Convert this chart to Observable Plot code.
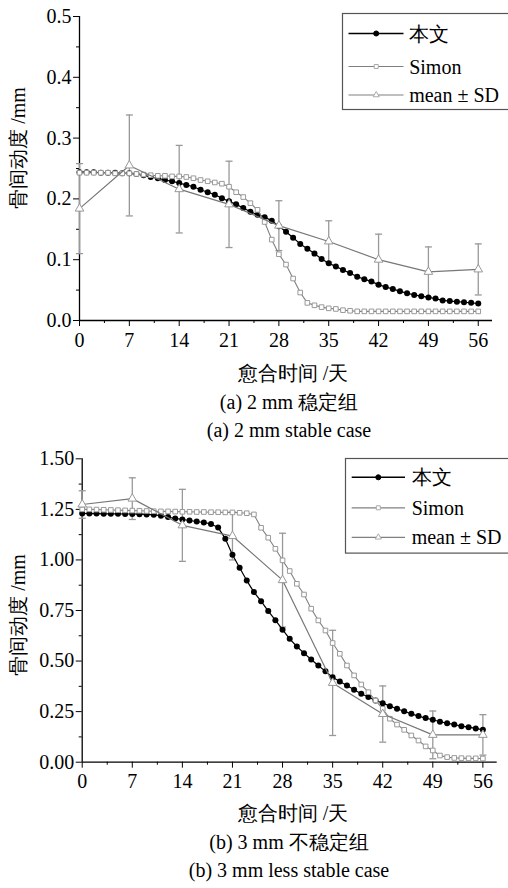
<!DOCTYPE html>
<html>
<head>
<meta charset="utf-8">
<script src="https://cdn.jsdelivr.net/npm/d3@7"></script>
<script src="https://cdn.jsdelivr.net/npm/@observablehq/plot@0.6"></script>
<style>
  html, body { margin: 0; padding: 0; background: #fff; }
  #root { position: relative; width: 508px; height: 888px; overflow: hidden; font-family: "Liberation Serif", "Times New Roman", serif; color: #000; }
  #root svg, #root svg text { font-family: "Liberation Serif", "Times New Roman", serif !important; }
  .abs { position: absolute; }
  .txt { position: absolute; transform: translate(-50%, -50%); white-space: nowrap; font-size: 20px; line-height: 1; }
  .ylab { position: absolute; transform: translate(-50%, -50%) rotate(-90deg); white-space: nowrap; font-size: 20px; line-height: 1; }
</style>
</head>
<body>
<div id="root"></div>
<script>
// ---------- data ----------
const dailyDays = d3.range(0, 57);            // day 0..56 (one point per day)
const sdDays = [0, 7, 14, 21, 28, 35, 42, 49, 56];
const xMajorTicks = [0, 7, 14, 21, 28, 35, 42, 49, 56];
const xMinorTicks = [3.5, 10.5, 17.5, 24.5, 31.5, 38.5, 45.5, 52.5];

// panel (a) 2 mm stable
const oursA = [0.244,0.244,0.244,0.243,0.243,0.243,0.242,0.242,0.241,0.239,
  0.236,0.234,0.231,0.229,0.226,0.223,0.220,0.215,0.211,0.207,
  0.201,0.196,0.191,0.185,0.179,0.174,0.170,0.164,0.155,0.146,
  0.136,0.126,0.118,0.110,0.101,0.094,0.089,0.083,0.078,0.072,
  0.068,0.064,0.059,0.055,0.052,0.048,0.045,0.042,0.040,0.038,
  0.036,0.033,0.032,0.031,0.030,0.029,0.028];
const simonA = [0.243,0.243,0.243,0.243,0.243,0.242,0.242,0.242,0.241,0.240,
  0.239,0.238,0.238,0.237,0.237,0.236,0.234,0.231,0.229,0.227,
  0.225,0.220,0.211,0.203,0.193,0.182,0.162,0.133,0.109,0.092,
  0.069,0.046,0.029,0.025,0.022,0.020,0.019,0.017,0.016,0.015,
  0.015,0.015,0.015,0.015,0.015,0.015,0.015,0.015,0.015,0.015,
  0.015,0.015,0.015,0.015,0.015,0.015,0.015];
const meanA = [0.184,0.255,0.216,0.191,0.156,0.130,0.100,0.080,0.084];
const sdA   = [0.074,0.083,0.072,0.071,0.041,0.034,0.042,0.041,0.042];
const yTicksA = [0, 0.1, 0.2, 0.3, 0.4, 0.5];
const yMinorA = [0.05, 0.15, 0.25, 0.35, 0.45];

// panel (b) 3 mm less stable
const oursB = [1.230,1.229,1.229,1.228,1.228,1.228,1.227,1.227,1.226,1.225,
  1.223,1.219,1.212,1.205,1.200,1.195,1.190,1.185,1.178,1.160,
  1.105,1.026,0.961,0.898,0.841,0.796,0.747,0.702,0.655,0.610,
  0.572,0.539,0.508,0.478,0.449,0.420,0.399,0.379,0.358,0.338,
  0.322,0.305,0.292,0.277,0.264,0.252,0.239,0.228,0.218,0.210,
  0.200,0.193,0.186,0.178,0.173,0.167,0.160];
const simonB = [1.250,1.250,1.249,1.248,1.247,1.246,1.245,1.244,1.243,1.242,
  1.241,1.240,1.240,1.239,1.238,1.238,1.237,1.237,1.236,1.236,
  1.235,1.235,1.233,1.231,1.225,1.159,1.110,1.055,0.998,0.945,
  0.882,0.829,0.759,0.701,0.651,0.589,0.536,0.478,0.429,0.384,
  0.346,0.305,0.264,0.215,0.186,0.160,0.132,0.107,0.078,0.058,
  0.033,0.025,0.021,0.020,0.019,0.019,0.018];
const meanB = [1.274,1.303,1.171,1.118,0.900,0.392,0.238,0.135,0.135];
const sdB   = [0.068,0.103,0.178,0.118,0.232,0.260,0.139,0.118,0.100];
const yTicksB = [0, 0.25, 0.5, 0.75, 1.0, 1.25, 1.5];
const yMinorB = [0.125, 0.375, 0.625, 0.875, 1.125, 1.375];

const seriesNames = ["本文", "Simon", "mean ± SD"];
const xLabel = "愈合时间 /天";
const yLabel = "骨间动度 /mm";
const captionsA = ["(a) 2 mm 稳定组", "(a) 2 mm stable case"];
const captionsB = ["(b) 3 mm 不稳定组", "(b) 3 mm less stable case"];

// ---------- drawing ----------
const root = document.getElementById("root");
const FONT = "Liberation Serif, Times New Roman, serif";
const capSymbol = { draw(ctx, size) { const w = Math.sqrt(size / Math.PI); ctx.moveTo(-w, 0); ctx.lineTo(w, 0); } };

function panel(o) {
  const ours = dailyDays.map((d, i) => ({day: d, v: o.ours[i]}));
  const simon = dailyDays.map((d, i) => ({day: d, v: o.simon[i]}));
  const ms = sdDays.map((d, i) => ({day: d, v: o.mean[i], sd: o.sd[i]}));
  const plot = Plot.plot({
    width: 508,
    height: o.marginTop + o.plotH + 32,
    marginLeft: o.marginLeft, marginRight: o.marginRight,
    marginTop: o.marginTop, marginBottom: 32,
    x: {domain: [0, 58]},
    y: {domain: o.yDomain},
    style: {fontSize: "20px", color: "#000", background: "transparent", overflow: "visible"},
    marks: [
      Plot.axisX({ticks: xMinorTicks, tickSize: 3, tickFormat: () => "", label: null}),
      Plot.axisX({ticks: xMajorTicks, tickSize: 6, tickPadding: 6, label: null}),
      Plot.axisY({ticks: o.yMinor, tickSize: 3, tickFormat: () => "", label: null}),
      Plot.axisY({ticks: o.yTicks, tickSize: 6, tickPadding: 2, tickFormat: o.fmt, label: null}),
      Plot.ruleX([0], {stroke: "#000", strokeWidth: 1.3}),
      Plot.ruleY([0], {stroke: "#000", strokeWidth: 1.3}),
      Plot.ruleX(ms, {x: "day", y1: d => d.v - d.sd, y2: d => d.v + d.sd, stroke: "#999", strokeWidth: 1.3}),
      Plot.dot(ms, {x: "day", y: d => d.v + d.sd, symbol: capSymbol, r: 3.5, stroke: "#999", strokeWidth: 1.3}),
      Plot.dot(ms, {x: "day", y: d => d.v - d.sd, symbol: capSymbol, r: 3.5, stroke: "#999", strokeWidth: 1.3}),
      Plot.line(ours, {x: "day", y: "v", stroke: "#000", strokeWidth: 1.2}),
      Plot.dot(ours, {x: "day", y: "v", fill: "#000", r: 3}),
      Plot.line(simon, {x: "day", y: "v", stroke: "#808080", strokeWidth: 1.1}),
      Plot.dot(simon, {x: "day", y: "v", symbol: "square", fill: "#fff", stroke: "#999", strokeWidth: 1, r: 2.6}),
      Plot.line(ms, {x: "day", y: "v", stroke: "#777", strokeWidth: 1.2}),
      Plot.dot(ms, {x: "day", y: "v", symbol: "triangle", fill: "#fff", stroke: "#999", strokeWidth: 1, r: 3.2})
    ]
  });
  plot.classList.add("abs");
  plot.setAttribute("font-family", FONT);
  plot.style.fontFamily = FONT;
  plot.style.left = "0px";
  plot.style.top = o.top + "px";
  root.appendChild(plot);

  // legend
  const lg = o.legend;
  const svg = d3.create("svg").attr("class", "abs").attr("width", lg.w).attr("height", lg.h)
    .style("left", lg.x + "px").style("top", lg.y + "px").style("overflow", "visible");
  svg.append("rect").attr("x", 0.5).attr("y", 0.5).attr("width", lg.w - 1).attr("height", lg.h - 1)
    .attr("fill", "#fff").attr("stroke", "#555").attr("stroke-width", 1.2);
  const sym = [d3.symbolCircle, d3.symbolSquare, d3.symbolTriangle];
  const lineCol = ["#000", "#808080", "#808080"];
  seriesNames.forEach((name, i) => {
    const cy = lg.rows[i] - lg.y;
    const g = svg.append("g");
    g.append("line").attr("x1", lg.lx1 - lg.x).attr("x2", lg.lx2 - lg.x).attr("y1", cy).attr("y2", cy)
      .attr("stroke", lineCol[i]).attr("stroke-width", i === 0 ? 1.5 : 1.2);
    g.append("path").attr("d", d3.symbol(sym[i], i === 0 ? 20 : 16)())
      .attr("transform", `translate(${lg.mx - lg.x},${cy})`)
      .attr("fill", i === 0 ? "#000" : "#fff").attr("stroke", i === 0 ? "#000" : "#aaa");
    g.append("text").attr("x", lg.tx - lg.x).attr("y", cy).attr("dy", "0.35em")
      .attr("font-family", FONT).attr("font-size", 20).text(name);
  });
  root.appendChild(svg.node());

  // texts
  const add = (cls, text, x, y) => {
    const el = document.createElement("div");
    el.className = cls; el.textContent = text;
    el.style.left = x + "px"; el.style.top = y + "px";
    root.appendChild(el);
  };
  add("ylab", yLabel, 18, o.yLabY);
  add("txt", xLabel, 293, o.xLabY);
  add("txt", o.captions[0], 289, o.capY[0]);
  add("txt", o.captions[1], 289, o.capY[1]);
}

panel({
  ours: oursA, simon: simonA, mean: meanA, sd: sdA,
  yDomain: [0, 0.5], yTicks: yTicksA, yMinor: yMinorA, fmt: d3.format(".1f"),
  marginLeft: 79, marginRight: 16, marginTop: 16, plotH: 304, top: 0,
  legend: {x: 341.5, y: 13, w: 170, h: 97, rows: [33.5, 66.5, 95], lx1: 348, lx2: 403, mx: 375.7, tx: 408.7},
  yLabY: 148, xLabY: 373, capY: [402, 430], captions: captionsA
});

panel({
  ours: oursB, simon: simonB, mean: meanB, sd: sdB,
  yDomain: [0, 1.5], yTicks: yTicksB, yMinor: yMinorB, fmt: d3.format(".2f"),
  marginLeft: 81.7, marginRight: 11.3, marginTop: 18.3, plotH: 303.4, top: 440,
  legend: {x: 345, y: 457.7, w: 168, h: 95.6, rows: [477, 507.5, 537], lx1: 351.7, lx2: 405, mx: 378.3, tx: 411.7},
  yLabY: 615, xLabY: 813, capY: [842, 870], captions: captionsB
});
</script>
</body>
</html>
